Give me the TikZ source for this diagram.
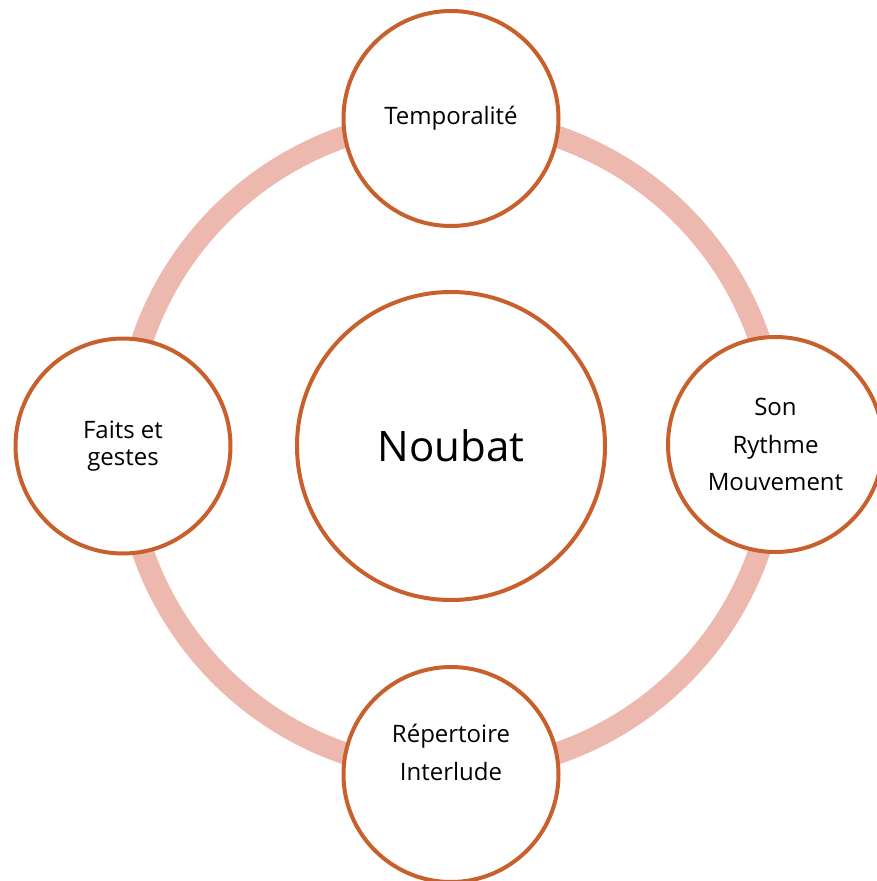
\documentclass[tikz,border=0pt]{standalone}
\usepackage{fontspec}
\setmainfont{Open Sans}
\definecolor{ringpink}{HTML}{EDB9AE}
\definecolor{rimorange}{HTML}{C8602E}
\begin{document}
\begin{tikzpicture}[x=1pt,y=-1pt,
  bubble/.style={circle,draw=rimorange,line width=4pt,fill=white,inner sep=0pt,
    minimum size=215pt,align=center,font=\fontsize{24}{37.5}\selectfont},
  hub/.style={bubble,minimum size=308pt,font=\fontsize{42}{50}\selectfont},
  caption/.style={align=center,inner sep=0pt,font=\fontsize{24}{38}\selectfont}]
  \useasboundingbox (0,0) rectangle (877,881);
  \clip (0,0) rectangle (877,881);
  % connecting ring behind the bubbles
  \coordinate (o) at (451,445);
  \draw[ringpink,line width=22pt] (o) circle[radius=326pt];
  % central bubble
  \node[hub] (noubat) at (451,446) {Noubat};
  % outer bubbles
  \node[bubble] (temp) at (451,118.5) {Temporalité};
  \node[bubble] (son) at (775.5,444.5) {Son\\Rythme\\Mouvement};
  \node[bubble,font=\fontsize{24}{27.5}\selectfont] (faits) at (123,446) {Faits et\\gestes};
  \node[bubble] (rep) at (451,774.5) {};
  \node[caption,anchor=base] (reptext) at (451,780) {Répertoire\\Interlude};
\end{tikzpicture}
\end{document}
